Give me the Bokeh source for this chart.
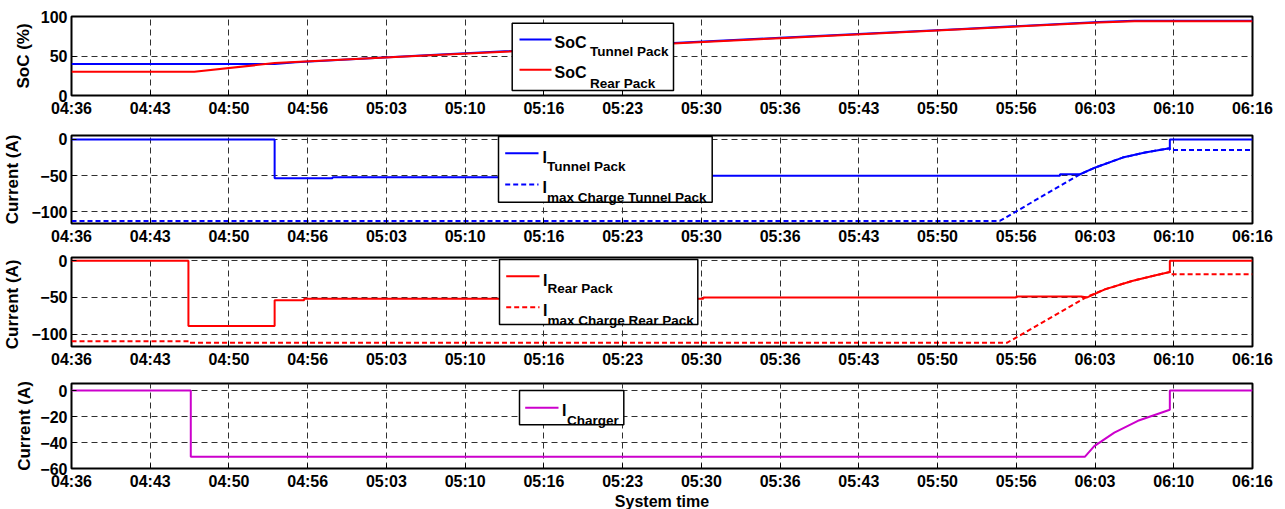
import numpy as np
from bokeh.plotting import figure
from bokeh.layouts import column
from bokeh.models import Range1d, FixedTicker, BoxAnnotation, Label, Arrow
from bokeh.embed import file_html
from bokeh.resources import INLINE

# ---------------- data (time in minutes after 04:36) ----------------
time_tick_labels = ["04:36", "04:43", "04:50", "04:56", "05:03", "05:10", "05:16", "05:23",
                    "05:30", "05:36", "05:43", "05:50", "05:56", "06:03", "06:10", "06:16"]

soc_tunnel_t = [0, 17.2, 19, 30, 45, 60, 75, 87, 90, 100]
soc_tunnel_v = [40, 40, 42, 51, 62, 73, 84, 93, 94.5, 94.5]
soc_rear_t = [0, 10.4, 17.2, 30, 45, 60, 75, 87, 90, 100]
soc_rear_v = [30, 30, 41, 50.5, 61.5, 72.5, 83.5, 92.5, 94, 94]

i_tunnel_t = [0, 17.2, 17.2, 22.1, 22.1, 53.5, 53.5, 83.7, 83.7, 85.4, 86.7, 89.0, 90.9, 93.0, 93.0, 100]
i_tunnel_v = [0, 0, -53.5, -53.5, -52, -52, -50, -50, -48, -48, -38.6, -25, -18, -12, 0, 0]
imax_tunnel_t = [0, 78.6, 85.4, 86.7, 89.0, 90.9, 93.0, 93.0, 100]
imax_tunnel_v = [-112.5, -112.5, -48, -38.6, -25, -18, -12, -14.5, -14.5]

i_rear_t = [0, 9.9, 9.9, 17.2, 17.2, 19.7, 19.7, 53.5, 53.5, 80, 80, 85.5, 86, 87.5, 89.8, 91.8, 93, 93, 100]
i_rear_v = [0, 0, -89, -89, -54, -54, -51.9, -51.9, -50, -50, -48.6, -48.6, -50, -39, -27.5, -19.8, -15.3, 0, 0]
imax_rear_t = [0, 10, 10, 79.2, 86, 87.5, 89.8, 91.8, 93, 93, 100]
imax_rear_v = [-110, -110, -112, -112, -49, -39, -27.5, -19.8, -15.3, -18.5, -18.5]

i_charger_t = [0, 10.1, 10.1, 85.8, 86.6, 88.3, 90.3, 93, 93, 100]
i_charger_v = [0, 0, -51, -51, -42.8, -32.4, -23.3, -14.8, 0, 0]

# ---------------- layout helpers ----------------
FONT = "Liberation Sans"
X_END = 6000  # seconds (100 min)
x_ticks = [i * 400 for i in range(16)]
FRAME_L, FRAME_W = 67, 1181


def sec(t):
    return np.array(t, dtype=float) * 60.0


def make_panel(y0, y1, yticks, ylabel, frame_top_page, frame_h, b_top, b_bottom, lab_standoff, xlabel=None):
    p = figure(frame_width=FRAME_W, frame_height=frame_h,
               min_border_left=FRAME_L, min_border_right=37,
               min_border_top=b_top, min_border_bottom=b_bottom,
               x_range=Range1d(0, X_END), y_range=Range1d(y0, y1),
               output_backend="svg", toolbar_location=None,
               background_fill_color="white", border_fill_color="white")
    p.outline_line_color = "black"
    p.outline_line_width = 2
    p.outline_line_alpha = 1

    xa = p.xaxis[0]
    xa.ticker = FixedTicker(ticks=x_ticks)
    xa.major_label_overrides = {t: l for t, l in zip(x_ticks, time_tick_labels)}
    ya = p.yaxis[0]
    ya.ticker = FixedTicker(ticks=yticks)
    ya.axis_label = ylabel
    ya.axis_label_standoff = lab_standoff
    for ax in (xa, ya):
        ax.axis_line_color = None
        ax.major_tick_in = 5
        ax.major_tick_out = 0
        ax.minor_tick_line_color = None
        ax.major_tick_line_color = "black"
        ax.major_label_text_font = FONT
        ax.major_label_text_font_style = "bold"
        ax.major_label_text_font_size = "16px"
        ax.major_label_text_color = "black"
        ax.axis_label_text_font = FONT
        ax.axis_label_text_font_style = "bold"
        ax.axis_label_text_font_size = "17px"
        ax.axis_label_text_color = "black"
    xa.major_label_standoff = 4
    ya.major_label_standoff = 4
    if xlabel:
        xa.axis_label = xlabel
        xa.axis_label_standoff = 0
        xa.axis_label_text_font_size = "16px"

    p.xgrid.ticker = FixedTicker(ticks=x_ticks)
    p.ygrid.ticker = FixedTicker(ticks=yticks)
    for g in (p.xgrid, p.ygrid):
        g.grid_line_color = "#303030"
        g.grid_line_dash = "6 4"
        g.grid_line_width = 1

    frame_bottom_page = frame_top_page + frame_h

    def X(px):
        return (px - FRAME_L) / FRAME_W * X_END

    def Y(py):
        return y0 + (frame_bottom_page - py) / frame_h * (y1 - y0)

    p._X = X
    p._Y = Y
    return p


def add_box(p, l, r, t, b):
    p.add_layout(BoxAnnotation(left=p._X(l), right=p._X(r), top=p._Y(t), bottom=p._Y(b),
                               fill_color="white", fill_alpha=1.0,
                               line_color="black", line_width=1.5, line_alpha=1.0))


def add_sample(p, l, r, y, color, dash="solid"):
    p.add_layout(Arrow(end=None, x_start=p._X(l), x_end=p._X(r), y_start=p._Y(y), y_end=p._Y(y),
                       line_color=color, line_width=2, line_dash=dash))


def add_text(p, x, y, txt, size):
    p.add_layout(Label(x=p._X(x), y=p._Y(y), text=txt, text_font=FONT, text_font_style="bold",
                       text_font_size=size, text_color="black", text_align="left",
                       text_baseline="alphabetic"))


DASH = "5 3"

# ---- panel 1: SoC ----
p1 = make_panel(0, 100, [0, 50, 100], "SoC (%)", 16, 79, 16, 32, 5)
p1.line(sec(soc_tunnel_t), soc_tunnel_v, line_color="#0000FF", line_width=2)
p1.line(sec(soc_rear_t), soc_rear_v, line_color="#FF0000", line_width=2)
add_box(p1, 507.7, 669, 22.7, 90)
add_sample(p1, 515, 547, 39, "#0000FF")
add_sample(p1, 515, 547, 69.3, "#FF0000")
add_text(p1, 550, 41.7, "SoC", "16px")
add_text(p1, 585.5, 50.7, "Tunnel Pack", "13.5px")
add_text(p1, 550, 71.7, "SoC", "16px")
add_text(p1, 585.5, 83, "Rear Pack", "13.5px")

# ---- panel 2: tunnel pack current ----
p2 = make_panel(-116, 5.5, [-100, -50, 0], "Current (A)", 135, 88, 8, 27, 6)
p2.line(sec(imax_tunnel_t), imax_tunnel_v, line_color="#0000FF", line_width=2, line_dash=DASH)
p2.line(sec(i_tunnel_t), i_tunnel_v, line_color="#0000FF", line_width=2)
add_box(p2, 494, 707.7, 136, 201.7)
add_sample(p2, 500.7, 534, 152.7, "#0000FF")
add_sample(p2, 500.7, 534, 184, "#0000FF", DASH)
add_text(p2, 538, 156.7, "I", "16px")
add_text(p2, 542.5, 165.5, "Tunnel Pack", "13.5px")
add_text(p2, 538, 186.7, "I", "16px")
add_text(p2, 542.5, 196.5, "max Charge Tunnel Pack", "13.5px")

# ---- panel 3: rear pack current ----
p3 = make_panel(-117, 4.5, [-100, -50, 0], "Current  (A)", 257, 89, 7, 29, 6)
p3.line(sec(imax_rear_t), imax_rear_v, line_color="#FF0000", line_width=2, line_dash=DASH)
p3.line(sec(i_rear_t), i_rear_v, line_color="#FF0000", line_width=2)
add_box(p3, 495, 693.3, 259, 324)
add_sample(p3, 501.7, 535, 275.7, "#FF0000")
add_sample(p3, 501.7, 535, 306.7, "#FF0000", DASH)
add_text(p3, 538.5, 280, "I", "16px")
add_text(p3, 543, 288, "Rear Pack", "13.5px")
add_text(p3, 538.5, 310, "I", "16px")
add_text(p3, 543, 320, "max Charge Rear Pack", "13.5px")

# ---- panel 4: charger current ----
p4 = make_panel(-60, 5.4, [-60, -40, -20, 0], "Current (A)", 383, 85, 8, 41, 3, xlabel="System time")
p4.line(sec(i_charger_t), i_charger_v, line_color="#CC00CC", line_width=2)
add_box(p4, 515, 619.3, 390, 424.3)
add_sample(p4, 520.7, 554, 407.3, "#CC00CC")
add_text(p4, 557.5, 410, "I", "16px")
add_text(p4, 562.5, 420, "Charger", "13.5px")

layout = column(p1, p2, p3, p4, spacing=0)
open("out.html", "w").write(file_html(layout, INLINE))
